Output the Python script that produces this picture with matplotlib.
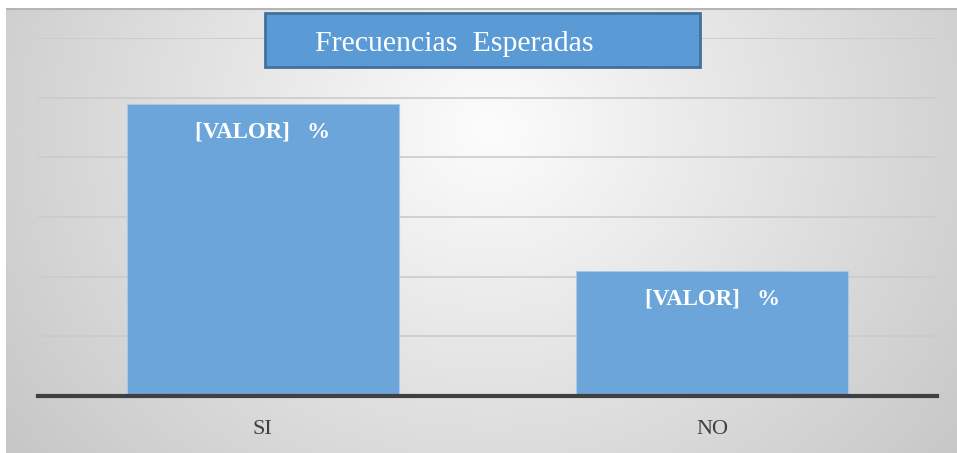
import numpy as np
import matplotlib
matplotlib.use("Agg")
import matplotlib.pyplot as plt
from matplotlib.patches import Rectangle

categories = ["SI", "NO"]
values = [49, 21]
labels = ["[VALOR]   %", "[VALOR]   %"]
title = "Frecuencias  Esperadas"
yticks = [0, 10, 20, 30, 40, 50, 60]

W, H = 957, 453
fig = plt.figure(figsize=(W / 100, H / 100), dpi=100)
fig.patch.set_facecolor("white")

def fx(px):
    return px / W

def fy(py):
    return (H - py) / H

# background gradient
bg = fig.add_axes([fx(6), 0, fx(W) - fx(6), fy(8)])
bg.set_axis_off()
ny, nx = 300, 600
yy, xx = np.mgrid[0:ny, 0:nx]
xn = xx / (nx - 1) * (W - 6) + 6
yn = yy / (ny - 1) * (H - 8) + 8
d = np.sqrt(((xn - 490) / 540) ** 2 + ((yn - 130) / 480) ** 2)
g = np.clip(0.99 - 0.19 * d, 0.77, 1.0)
img = np.dstack([g, g, g])
bg.imshow(img, aspect="auto", extent=[0, 1, 0, 1], origin="upper")
bg.set_xlim(0, 1)
bg.set_ylim(0, 1)
bg.plot([0, 1], [0.998, 0.998], color="#b5b5b5", lw=1.5, transform=bg.transAxes)

# main axes
ax = fig.add_axes([fx(38), fy(396), fx(937) - fx(38), fy(38) - fy(396)])
ax.patch.set_alpha(0)
x = np.arange(len(categories))
ax.set_xlim(-0.5, len(categories) - 0.5)
ax.set_ylim(yticks[0], yticks[-1])
ax.set_yticks(yticks)
ax.yaxis.grid(True, color="#cbcbcb", lw=1.2)
ax.set_axisbelow(True)
for s in ["top", "right", "left"]:
    ax.spines[s].set_visible(False)
ax.spines["bottom"].set_color("#404040")
ax.spines["bottom"].set_linewidth(3)
ax.spines["bottom"].set_zorder(5)
ax.tick_params(axis="y", length=0, labelleft=False)
ax.tick_params(axis="x", length=0, pad=17)
bars = ax.bar(x, values, width=0.605, color="#6ca5d9", edgecolor="#a8c9ea", lw=0.8, zorder=3)
ax.set_xticks(x)
ax.set_xticklabels(categories, fontfamily="Liberation Serif", fontsize=16, color="#404040")

for xi, v, lab in zip(x, values, labels):
    ax.annotate(lab, (xi, v), xytext=(0, -28), textcoords="offset pixels",
                ha="center", va="center", color="white", fontweight="bold",
                fontfamily="Liberation Serif", fontsize=16.5, zorder=6)

# title box
fig.patches.append(Rectangle((fx(265), fy(67)), fx(700) - fx(265), fy(13) - fy(67),
                             transform=fig.transFigure, facecolor="#5b9bd5",
                             edgecolor="#41719c", lw=2, zorder=10))
fig.text(fx(454), fy(44), title, ha="center", va="center", color="white",
         fontfamily="Liberation Serif", fontsize=21.5, zorder=11)

fig.savefig("out.png", dpi=100)
